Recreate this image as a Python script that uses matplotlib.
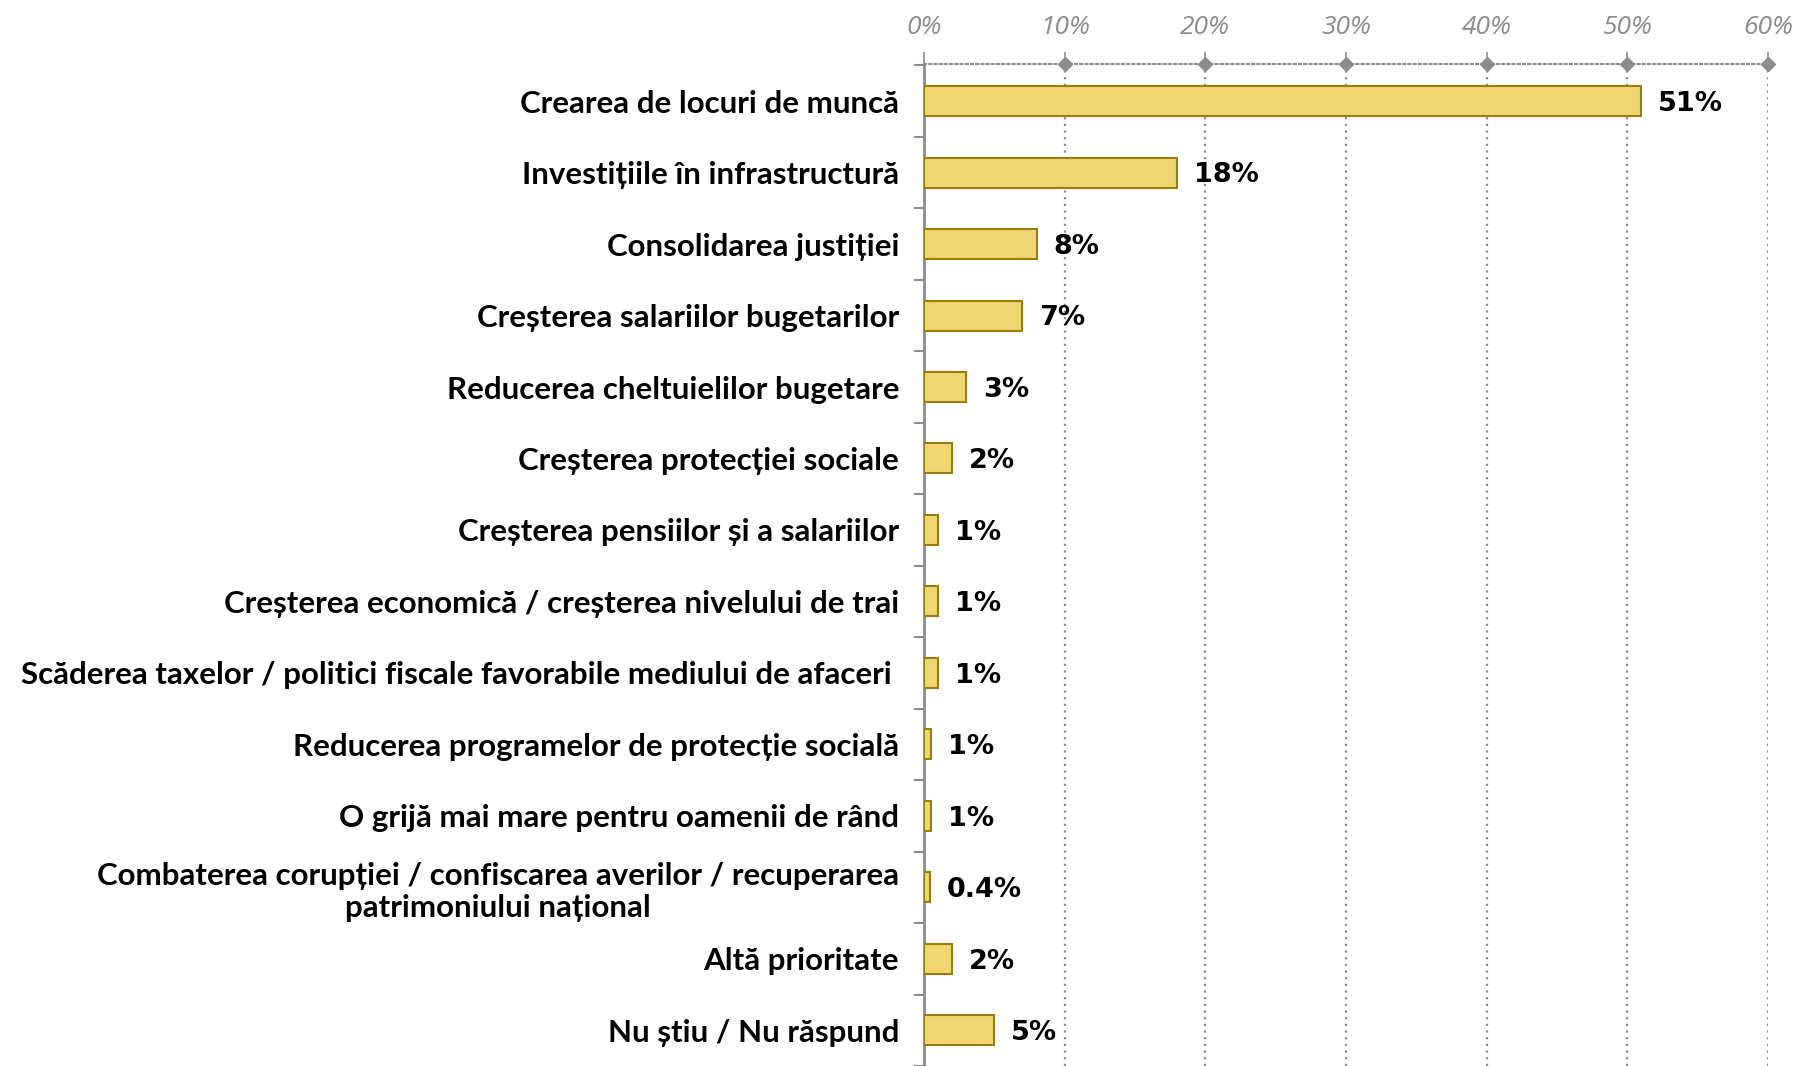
import matplotlib.pyplot as plt
import numpy as np

# survey answers, top to bottom
categories = [
    'Crearea de locuri de muncă',
    'Investițiile în infrastructură',
    'Consolidarea justiției',
    'Creșterea salariilor bugetarilor',
    'Reducerea cheltuielilor bugetare',
    'Creșterea protecției sociale',
    'Creșterea pensiilor și a salariilor',
    'Creșterea economică / creșterea nivelului de trai',
    'Scăderea taxelor / politici fiscale favorabile mediului de afaceri ',
    'Reducerea programelor de protecție socială',
    'O grijă mai mare pentru oamenii de rând',
    'Combaterea corupției / confiscarea averilor / recuperarea\npatrimoniului național',
    'Altă prioritate',
    'Nu știu / Nu răspund',
]
values = [51, 18, 8, 7, 3, 2, 1, 1, 1, 0.5, 0.5, 0.4, 2, 5]
value_labels = ['51%', '18%', '8%', '7%', '3%', '2%', '1%', '1%', '1%', '1%', '1%',
                '0.4%', '2%', '5%']
xticks = [0, 10, 20, 30, 40, 50, 60]
xtick_labels = ['0%', '10%', '20%', '30%', '40%', '50%', '60%']

bar_fill = '#F0D673'
bar_edge = '#9A7D0A'
grey = '#8C8C8C'
label_font = ['Lato', 'DejaVu Sans']

fig = plt.figure(figsize=(17.97, 10.66), dpi=100)
ax = fig.add_axes([0.5142, 0.0, 0.4697, 0.94])

y = np.arange(len(categories))
ax.barh(y, values, height=0.42, color=bar_fill, edgecolor=bar_edge, linewidth=1.5, zorder=3)

for yi, v, lab in zip(y, values, value_labels):
    ax.text(v + 1.2, yi + 0.04, lab, va='center', ha='left', fontsize=19.5,
            fontweight='bold', color='black', family=['DejaVu Sans'])

ax.set_xlim(0, 60)
ax.set_ylim(len(categories) - 0.54, -0.52)

# x axis on top, italic grey labels
ax.xaxis.tick_top()
ax.set_xticks(xticks)
ax.set_xticklabels(xtick_labels, fontsize=19, style='italic', color=grey,
                   family=['Open Sans', 'DejaVu Sans'])
ax.tick_params(axis='x', length=9, width=1.2, color=grey, pad=8, direction='out')

# categories with small separator ticks on the left
ax.set_yticks(y)
ax.set_yticklabels(categories, fontsize=22.5, fontweight='bold', family=label_font,
                   multialignment='center')
ax.tick_params(axis='y', which='major', length=0, pad=18)
ax.set_yticks(np.arange(-0.5, len(categories)), minor=True)
ax.tick_params(axis='y', which='minor', length=7, width=1.5, color=grey)

ax.grid(axis='x', linestyle=(0, (1, 2)), color=grey, linewidth=1.6, zorder=0)

for side in ['right', 'bottom']:
    ax.spines[side].set_visible(False)
ax.spines['left'].set_color(grey)
ax.spines['left'].set_linewidth(2)
ax.spines['top'].set_color(grey)
ax.spines['top'].set_linestyle((0, (1, 1.5)))
ax.spines['top'].set_linewidth(1.5)

# diamond markers on the top axis
ax.plot(xticks[1:], [1] * (len(xticks) - 1), 'D', color=grey, markersize=7,
        transform=ax.get_xaxis_transform(), clip_on=False, zorder=5)

fig.savefig('out.png', dpi=100)
